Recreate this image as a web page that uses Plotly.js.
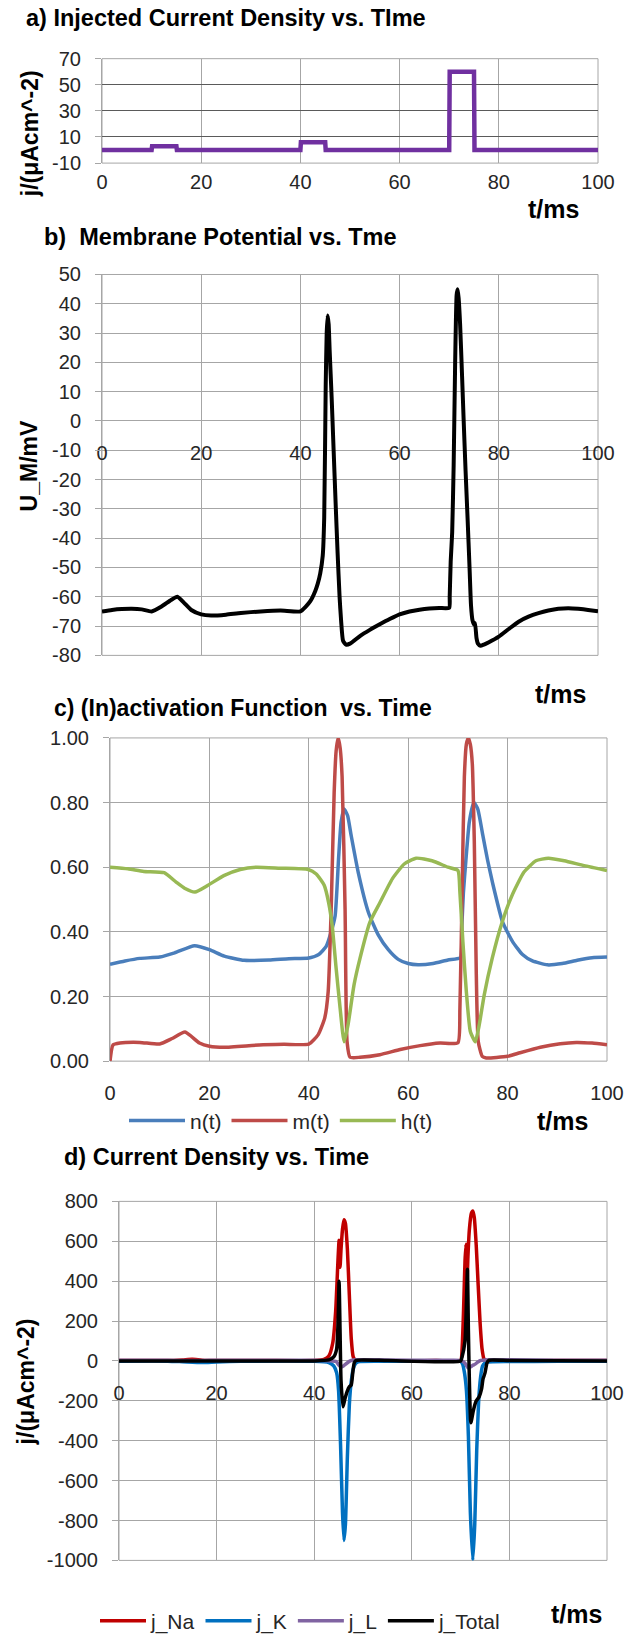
<!DOCTYPE html>
<html>
<head>
<meta charset="utf-8">
<script src="https://cdn.plot.ly/plotly-3.0.1.min.js"></script>
<style>html,body{margin:0;padding:0;background:#fff}#chart{width:628px;height:1642px}</style>
</head>
<body>
<div id="chart"></div>
<script>
// ---------- data ----------
// a) injected current
const tA   = [0, 10, 10.1, 15, 15.1, 40, 40.1, 45, 45.1, 70, 70.1, 75, 75.1, 100];
const jInj = [0, 0, 3, 3, 0, 0, 6, 6, 0, 0, 60, 60, 0, 0];

// b) membrane potential
const tU = [0,2,4,6,8,10,12,14,15.2,16.5,18,20,22,25,28,32,36,40,41,42,43,43.5,44,44.5,44.8,45.1,45.3,45.5,45.7,45.9,46.3,46.7,47.1,47.5,47.9,48.2,48.6,49.2,50,52,54,56,58,60,62,64,66,68,70,70.1,70.3,70.6,70.9,71.2,71.5,71.7,71.9,72.2,72.6,72.9,73.3,73.7,74.1,74.4,74.7,75,75.2,75.5,75.8,76.3,77,78,80,82,84,86,88,90,92,94,96,98,100];
const uM = [-65,-64.5,-64.2,-64.1,-64.3,-65,-63.3,-61,-60,-62,-64.5,-66,-66.4,-66.1,-65.5,-65,-64.7,-65,-63.5,-61.5,-58,-55.5,-52,-46,-33,12,30,36,33,24,8,-10,-28,-45,-60,-68,-75,-76.3,-76,-73.4,-71.3,-69.4,-67.6,-66,-65,-64.4,-64,-63.8,-63.8,-60,-48,-38,-15,20,43,45,42,33,15,1,-17,-33,-50,-63,-68,-69.4,-69,-74,-76,-76.7,-76.3,-75.5,-73.6,-71,-68.5,-66.8,-65.6,-64.7,-64.1,-63.9,-64.1,-64.5,-64.9];

// c) gating variables
const tN = [0,3,6,10,13,17,20,23,27,32,36,40,42,43.5,44.5,45.3,46,46.5,47.1,47.8,48.5,50,52,54,56,58,60,62,65,68,70.5,70.8,71.1,71.6,72.3,73.2,74,75,76,77,79,81,83,85,88,91,94,97,100];
const nV = [0.300,0.310,0.318,0.322,0.335,0.357,0.345,0.325,0.312,0.313,0.317,0.319,0.33,0.355,0.40,0.45,0.63,0.74,0.78,0.76,0.70,0.58,0.46,0.39,0.345,0.315,0.302,0.298,0.302,0.313,0.32,0.42,0.52,0.62,0.74,0.80,0.78,0.70,0.62,0.55,0.43,0.37,0.33,0.31,0.298,0.302,0.312,0.32,0.322];
const tM = [0,0.6,2,6,10,12.5,15.1,18,20,23,30,35,40,41.9,43.2,43.9,44.5,45.1,45.5,45.9,46.3,46.7,47.3,47.7,48.3,50.3,54.3,58.4,62.4,66.4,70,70.4,70.9,71.3,71.7,72.1,72.5,72.9,73.3,73.7,74.1,74.9,75.7,80,82.5,86.6,90.6,93.8,97,100];
const mV = [0,0.05,0.056,0.058,0.053,0.07,0.09,0.056,0.046,0.043,0.050,0.052,0.053,0.082,0.133,0.215,0.47,0.83,0.96,1.0,0.97,0.88,0.47,0.06,0.012,0.012,0.02,0.036,0.048,0.056,0.057,0.16,0.57,0.88,0.98,1.0,0.98,0.92,0.68,0.27,0.06,0.015,0.01,0.015,0.026,0.043,0.054,0.058,0.056,0.051];
const tH = [0,3.6,6.8,10.9,13.3,15,17.1,19.7,22.9,26.2,29.4,34.2,39.9,41.5,43.1,44,44.7,45.5,46.3,47.1,47.9,49.1,50.3,52.3,54.3,56.8,59.2,61.6,64.8,68,70,70.4,71,71.7,72.5,73.5,74.3,75.3,76.9,78.9,80.9,83.3,85.7,88.2,91.4,95.4,100];
const hV = [0.60,0.595,0.587,0.583,0.554,0.535,0.523,0.544,0.574,0.593,0.60,0.597,0.593,0.579,0.544,0.49,0.42,0.287,0.164,0.06,0.113,0.236,0.318,0.43,0.49,0.564,0.61,0.628,0.62,0.60,0.59,0.523,0.37,0.215,0.092,0.06,0.113,0.205,0.318,0.43,0.513,0.585,0.62,0.628,0.62,0.605,0.59];

// d) current densities
const tNa = [0,10,13,15,17,20,30,40,42,43,43.8,44.4,44.9,45.1,45.3,45.5,45.8,46.1,46.4,46.8,47.2,47.6,48,48.5,55,60,65,70,70.3,70.6,70.9,71.1,71.3,71.5,71.8,72.2,72.5,72.8,73.2,73.6,74,74.4,74.8,75.3,80,90,100];
const jNa = [2,2,5,8,4,2,2,2,8,25,90,250,520,605,470,560,660,708,690,560,330,110,20,2,1,1,2,2,60,250,500,585,380,520,660,740,752,720,580,380,190,60,10,2,1,2,2];
const tK  = [0,10,13,17,20,25,40,43,44,44.6,45,45.4,45.8,46.1,46.4,46.8,47.2,47.6,48,48.5,49,55,70,70.4,70.8,71.2,71.6,72,72.5,72.9,73.3,73.7,74.1,74.5,75,75.5,80,90,100];
const jK  = [-1,-1,-4,-8,-5,-2,-2,-8,-25,-60,-150,-420,-760,-900,-820,-480,-220,-100,-40,-12,-4,-2,-2,-15,-60,-150,-380,-760,-1000,-820,-450,-200,-80,-25,-10,-5,-3,-2,-2];
const tL  = [0,10,15,17,20,30,40,43,44.5,45,45.5,46,46.5,47,47.5,48,49,55,65,70,70.5,71,71.5,72,72.5,73,73.5,74,74.5,75,76,80,90,100];
const jL  = [3,3,1.8,2.5,3.5,3.4,3.2,1,-3,-19,-30,-25,-15,-5,2,5,6.5,5,3,3,-3,-15,-34,-30,-22,-16,-6,2,3.5,5,6.5,5.8,3,3];
const tT  = [0,10,15,20,40,43,44,44.6,44.9,45.1,45.3,45.5,45.9,46.3,46.8,47.2,47.6,47.9,48.2,48.6,55,70,70.3,70.9,71.2,71.4,71.6,71.8,72.1,72.6,73.2,73.8,74.3,74.6,75,75.4,75.8,80,100];
const jT  = [0,0,0,0,0,5,20,60,200,400,150,-100,-230,-190,-150,-130,-120,-60,-10,3,2,0,20,100,300,460,150,-100,-310,-250,-200,-180,-140,-90,-60,-10,3,2,0];

// tick labels
const xTickVals = [0,20,40,60,80,100];
const xTickText = ['0','20','40','60','80','100'];
const yATickVals = [-10,10,30,50,70];
const yATickText = ['-10','10','30','50','70'];
const yBTickVals = [-80,-70,-60,-50,-40,-30,-20,-10,0,10,20,30,40,50];
const yBTickText = ['-80','-70','-60','-50','-40','-30','-20','-10','0','10','20','30','40','50'];
const yCTickVals = [0,0.2,0.4,0.6,0.8,1.0];
const yCTickText = ['0.00','0.20','0.40','0.60','0.80','1.00'];
const yDTickVals = [-1000,-800,-600,-400,-200,0,200,400,600,800];
const yDTickText = ['-1000','-800','-600','-400','-200','0','200','400','600','800'];

// ---------- layout helpers ----------
const W = 628, H = 1642;
const F = 'Liberation Sans, Arial, sans-serif';
const TXT = '#262626';
const GRID = '#a6a6a6';
const px = v => v / W;
const py = v => 1 - v / H;

// panel boxes in pixels [left, right, top, bottom]
const boxA = [102, 598, 59, 164];
const boxB = [102, 598, 276, 659];
const boxC = [110, 607, 742, 1067];
const boxD = [119, 607, 1208, 1569];

function zeroPos(box, r0, r1) { // paper y of value 0
  const yp = box[3] - (0 - r0) / (r1 - r0) * (box[3] - box[2]);
  return py(yp);
}

function xAx(box, anchor, pos) {
  const o = {
    domain: [px(box[0]), px(box[1])], range: [0, 100],
    tickmode: 'array', tickvals: xTickVals, ticktext: xTickText,
    showgrid: true, gridcolor: GRID, gridwidth: 1, zeroline: false,
    showline: false, ticks: '', ticklabelstandoff: 18,
    tickfont: {family: F, size: 20, color: TXT}, fixedrange: true
  };
  if (anchor === 'free') { o.anchor = 'free'; o.position = pos; } else { o.anchor = anchor; }
  return o;
}
function yAx(box, range, vals, text, anchor, gridcolor) {
  return {
    domain: [py(box[3]), py(box[2])], range: range,
    tickmode: 'array', tickvals: vals, ticktext: text,
    showgrid: true, gridcolor: gridcolor || GRID, gridwidth: 1, zeroline: false,
    showline: true, linecolor: GRID, linewidth: 1,
    ticks: 'outside', ticklen: 6, tickcolor: GRID, ticklabelstandoff: 10,
    tickfont: {family: F, size: 20, color: TXT}, anchor: anchor, fixedrange: true
  };
}

const SP = {shape: 'spline', smoothing: 0.5};
const traces = [
  {x: tA, y: jInj, xaxis: 'x', yaxis: 'y', mode: 'lines', line: {color: '#7030A0', width: 4.5}, showlegend: false, name: 'j_inj'},
  {x: tU, y: uM, xaxis: 'x2', yaxis: 'y2', mode: 'lines', line: Object.assign({color: '#000000', width: 4}, SP), showlegend: false, name: 'U_M'},
  {x: tN, y: nV, xaxis: 'x3', yaxis: 'y3', mode: 'lines', line: Object.assign({color: '#4A7EBB', width: 3.5}, SP), name: 'n(t)', legend: 'legend'},
  {x: tM, y: mV, xaxis: 'x3', yaxis: 'y3', mode: 'lines', line: Object.assign({color: '#BE4B48', width: 3.5}, SP), name: 'm(t)', legend: 'legend'},
  {x: tH, y: hV, xaxis: 'x3', yaxis: 'y3', mode: 'lines', line: Object.assign({color: '#98B954', width: 3.5}, SP), name: 'h(t)', legend: 'legend'},
  {x: tNa, y: jNa, xaxis: 'x4', yaxis: 'y4', mode: 'lines', line: Object.assign({color: '#C00000', width: 3.5}, SP), name: 'j_Na', legend: 'legend2'},
  {x: tK, y: jK, xaxis: 'x4', yaxis: 'y4', mode: 'lines', line: Object.assign({color: '#0070C0', width: 3.5}, SP), name: 'j_K', legend: 'legend2'},
  {x: tL, y: jL, xaxis: 'x4', yaxis: 'y4', mode: 'lines', line: Object.assign({color: '#8064A2', width: 3.5}, SP), name: 'j_L', legend: 'legend2'},
  {x: tT, y: jT, xaxis: 'x4', yaxis: 'y4', mode: 'lines', line: Object.assign({color: '#000000', width: 3.5}, SP), name: 'j_Total', legend: 'legend2'}
];

function ann(text, x, y, size, opts) {
  return Object.assign({text: text, x: px(x), y: py(y), xref: 'paper', yref: 'paper',
    showarrow: false, xanchor: 'left', yanchor: 'middle',
    font: {family: F, size: size, color: '#000'}}, opts || {});
}

const annotations = [
  ann('<b>a) Injected Current Density vs. TIme</b>', 24, 18, 23.5),
  ann('<b>b)\u00a0 Membrane Potential vs. Tme</b>', 42, 238, 23.5),
  ann('<b>c) (In)activation Function\u00a0 vs. Time</b>', 52, 712, 23),
  ann('<b>d) Current Density vs. Time</b>', 62, 1163, 23.5),
  ann('<b>j/(\u03bcAcm^-2)</b>', 30, 135, 23, {xanchor: 'center', textangle: -90}),
  ann('<b>U_M/mV</b>', 29, 468, 23, {xanchor: 'center', textangle: -90}),
  ann('<b>j/(\u03bcAcm^-2)</b>', 26, 1390, 23, {xanchor: 'center', textangle: -90}),
  ann('<b>t/ms</b>', 553, 210, 25, {xanchor: 'center'}),
  ann('<b>t/ms</b>', 560, 698, 25, {xanchor: 'center'}),
  ann('<b>t/ms</b>', 562, 1127, 25, {xanchor: 'center'}),
  ann('<b>t/ms</b>', 576, 1623, 25, {xanchor: 'center'})
];

function frame(xa, ya) {
  return {type: 'rect', xref: xa + ' domain', yref: ya + ' domain', x0: 0, x1: 1, y0: 0, y1: 1,
    line: {color: GRID, width: 1}, fillcolor: 'rgba(0,0,0,0)', layer: 'below'};
}

const layout = {
  width: W, height: H, margin: {l: 0, r: 0, t: 0, b: 0},
  paper_bgcolor: '#ffffff', plot_bgcolor: '#ffffff',
  font: {family: F, color: TXT},
  xaxis:  xAx(boxA, 'free', zeroPos(boxA, -10, 70)),
  yaxis:  yAx(boxA, [-10, 70], yATickVals, yATickText, 'x', '#5a5a5a'),
  xaxis2: xAx(boxB, 'free', zeroPos(boxB, -80, 50)),
  yaxis2: yAx(boxB, [-80, 50], yBTickVals, yBTickText, 'x2'),
  xaxis3: xAx(boxC, 'y3'),
  yaxis3: yAx(boxC, [0, 1], yCTickVals, yCTickText, 'x3'),
  xaxis4: xAx(boxD, 'free', zeroPos(boxD, -1000, 800)),
  yaxis4: yAx(boxD, [-1000, 800], yDTickVals, yDTickText, 'x4'),
  legend: {orientation: 'h', x: px(124), y: py(1127), xanchor: 'left', yanchor: 'middle',
    font: {family: F, size: 21, color: TXT}, bgcolor: 'rgba(0,0,0,0)', itemwidth: 56, traceorder: 'normal'},
  legend2: {orientation: 'h', x: px(95), y: py(1630), xanchor: 'left', yanchor: 'middle',
    font: {family: F, size: 21, color: TXT}, bgcolor: 'rgba(0,0,0,0)', itemwidth: 46, traceorder: 'normal'},
  annotations: annotations,
  shapes: [frame('x', 'y'), frame('x2', 'y2'), frame('x3', 'y3'), frame('x4', 'y4')]
};

Plotly.newPlot('chart', traces, layout, {displayModeBar: false, staticPlot: true});
</script>
</body>
</html>
